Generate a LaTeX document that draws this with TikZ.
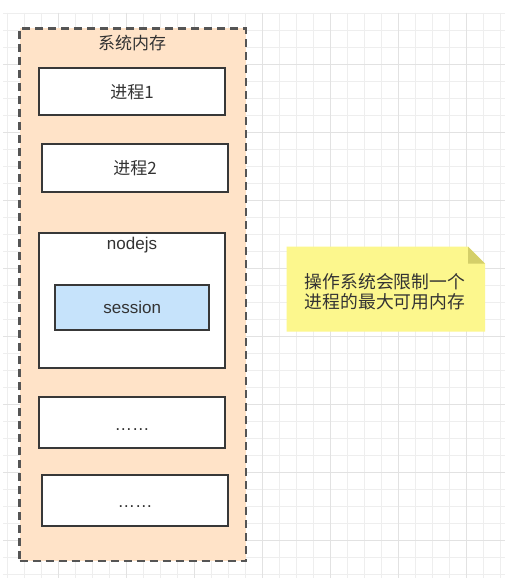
\documentclass[tikz,border=0pt]{standalone}
\usepackage{fontspec}
\setmainfont{Liberation Sans}
\newfontfamily\cjk{Noto Sans CJK SC}
\definecolor{gridminor}{HTML}{EEEEEE}
\definecolor{gridmajor}{HTML}{E2E2E2}
\definecolor{memfill}{HTML}{FFE3C8}
\definecolor{memline}{HTML}{555555}
\definecolor{boxline}{HTML}{383838}
\definecolor{sessfill}{HTML}{C6E3FB}
\definecolor{notefill}{HTML}{FCF78D}
\definecolor{notefold}{HTML}{D4CF69}
\definecolor{txt}{HTML}{333333}
\begin{document}
\begin{tikzpicture}[x=1pt,y=-1pt,
  membox/.style={draw=memline, fill=memfill, line width=2.2pt, dash pattern=on 8pt off 5pt, inner sep=0pt},
  procbox/.style={draw=boxline, fill=white, line width=2pt, inner sep=0pt},
  sessbox/.style={draw=boxline, fill=sessfill, line width=2pt, inner sep=0pt, font=\fontsize{17}{20}\selectfont, text=txt},
  cjklabel/.style={font=\cjk\fontsize{17}{21}\selectfont, text=txt, inner sep=0pt},
  latlabel/.style={font=\fontsize{17}{20}\selectfont, text=txt, inner sep=0pt},
  dotlabel/.style={font=\fontsize{17.5}{20}\selectfont, text=txt, inner sep=0pt, anchor=base}]
\useasboundingbox (0,0) rectangle (512,586);
\fill[white] (0,0) rectangle (512,586);
% grid
\foreach \i in {0,...,29} \draw[gridminor, line width=0.8pt] ({7.7+17*\i},13) -- ({7.7+17*\i},578);
\foreach \j in {0,...,33} \draw[gridminor, line width=0.8pt] (3,{13.3+17*\j}) -- (505,{13.3+17*\j});
\foreach \i in {0,...,7} \draw[gridmajor, line width=0.9pt] ({58.7+68*\i},13) -- ({58.7+68*\i},578);
\foreach \j in {0,...,7} \draw[gridmajor, line width=0.9pt] (3,{64.3+68*\j}) -- (505,{64.3+68*\j});
% memory
\node[membox, minimum width=226.5pt, minimum height=532.5pt] (mem) at (132.75,294.75) {};
\node[cjklabel] (memtitle) at (132.2,42.7) {系统内存};
% processes
\node[procbox, minimum width=185.4pt, minimum height=46.7pt, cjklabel] (p1) at (132,91.7) {进程1};
\node[procbox, minimum width=185.7pt, minimum height=47.4pt, cjklabel] (p2) at (135.2,168) {进程2};
\node[procbox, minimum width=185.4pt, minimum height=135pt] (node) at (132,300.8) {};
\node[latlabel] (nodetitle) at (132,245) {nodejs};
\node[sessbox, minimum width=154.3pt, minimum height=45pt] (sess) at (132.2,307.5) {session};
\node[procbox, minimum width=185.4pt, minimum height=51.6pt] (d1) at (132,422.5) {};
\node[dotlabel] (d1t) at (132,430.5) {……};
\node[procbox, minimum width=185.7pt, minimum height=51pt] (d2) at (135.2,500.5) {};
\node[dotlabel] (d2t) at (135.2,507.2) {……};
% note
\coordinate (nA) at (286.7,246.7);
\coordinate (nB) at (485,331.7);
\fill[notefill] (nA) -- (468,246.7) -- (485,263.7) -- (nB) -- (286.7,331.7) -- cycle;
\fill[notefold] (468,246.7) -- (468,263.7) -- (485,263.7) -- cycle;
\node[cjklabel, align=center, font=\cjk\fontsize{17.8}{20.5}\selectfont] (notetext) at (385,291.7) {操作系统会限制一个\\进程的最大可用内存};
\end{tikzpicture}
\end{document}
